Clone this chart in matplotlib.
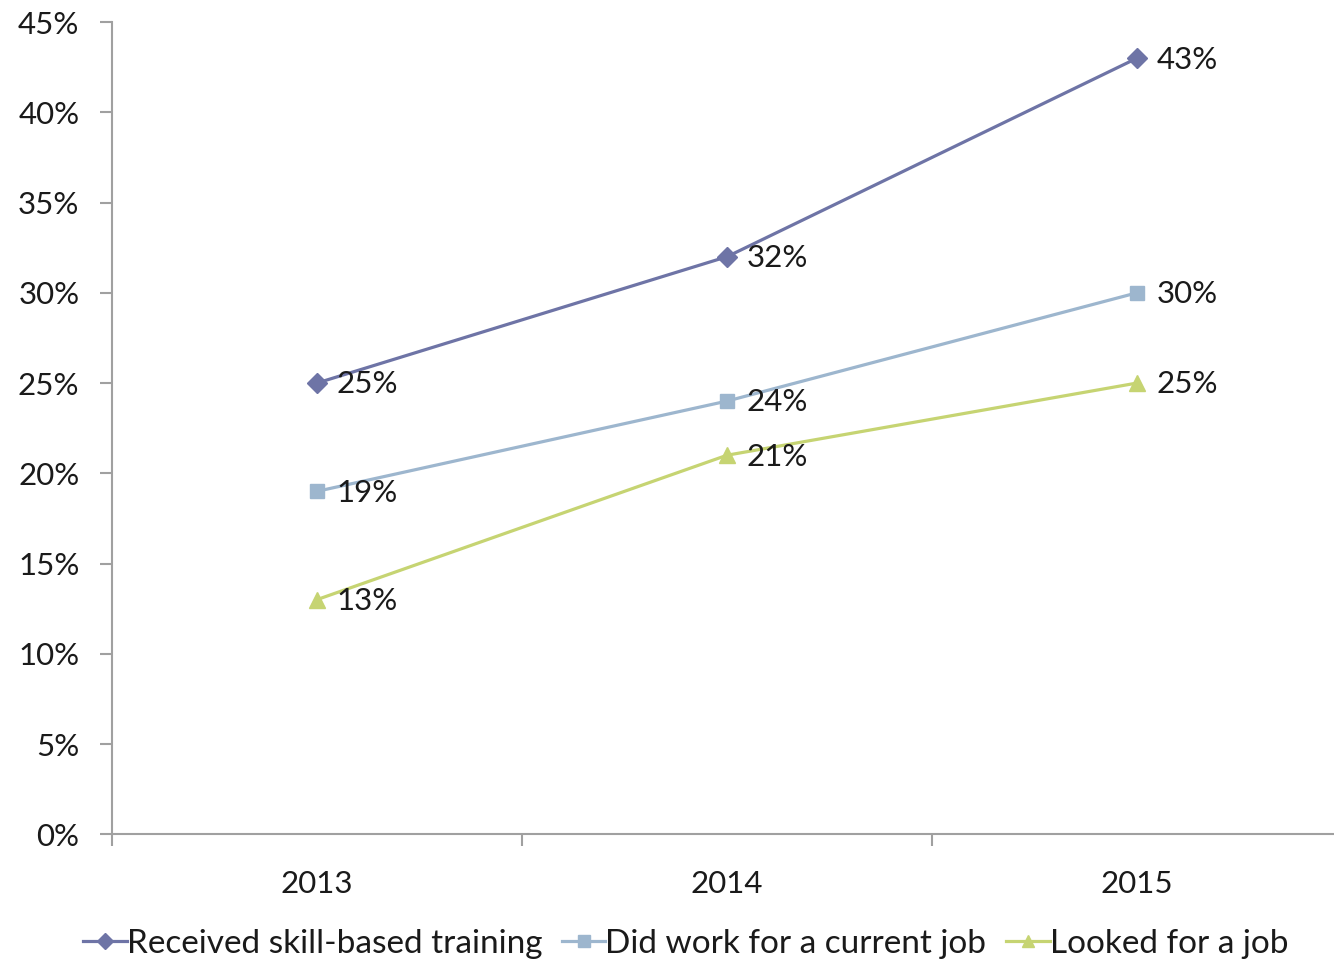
import numpy as np
import matplotlib
matplotlib.use("Agg")
from matplotlib import pyplot as plt
from matplotlib.ticker import FixedLocator

years = ["2013", "2014", "2015"]
training = [25, 32, 43]
current_job = [19, 24, 30]
looked_job = [13, 21, 25]
series_names = ["Received skill-based training", "Did work for a current job", "Looked for a job"]

plt.rcParams['font.family'] = ['Lato', 'DejaVu Sans']

FS = 22.5


def main():
    fig = plt.figure(figsize=(13.34, 9.6), dpi=100)
    ax = fig.add_axes([112 / 1334, 0.131, 1230 / 1334, 0.846])
    x = np.arange(len(years))

    styles = [("#6E74A6", "D", 10), ("#9DB6CE", "s", 10), ("#C6D472", "^", 11)]
    for vals, name, (c, m, ms) in zip([training, current_job, looked_job], series_names, styles):
        ax.plot(x, vals, color=c, marker=m, markersize=ms, linewidth=2.3, label=name,
                clip_on=False)
        for xi, v in zip(x, vals):
            ax.annotate(f"{v}%", (xi, v), xytext=(14, -1), textcoords="offset points",
                        ha="left", va="center", fontsize=FS, color="#1a1a1a")

    ax.set_ylim(0, 45)
    ax.set_xlim(-0.5, 2.5)
    ax.set_yticks(range(0, 46, 5))
    ax.set_yticklabels([f"{v}%" for v in range(0, 46, 5)])
    ax.set_xticks(x)
    ax.set_xticklabels(years)
    ax.xaxis.set_minor_locator(FixedLocator([-0.5, 0.5, 1.5, 2.5]))
    ax.tick_params(axis="x", which="major", length=0, pad=26, labelsize=FS, labelcolor="#1a1a1a")
    ax.tick_params(axis="x", which="minor", length=8.5, width=1.5, color="#A0A0A0", direction="out")
    ax.tick_params(axis="y", length=8.5, width=1.5, color="#A0A0A0", labelsize=FS,
                   labelcolor="#1a1a1a", pad=15)

    for s in ["top", "right"]:
        ax.spines[s].set_visible(False)
    for s in ["left", "bottom"]:
        ax.spines[s].set_color("#A0A0A0")
        ax.spines[s].set_linewidth(1.5)

    fig.legend(loc="lower center", bbox_to_anchor=(0.514, -0.03), ncol=3, frameon=False,
               fontsize=24, handlelength=1.3, handletextpad=0.0, columnspacing=0.6,
               markerscale=0.8, labelcolor="#1a1a1a")
    fig.savefig("out.png", dpi=100)


if __name__ == '__main__':
    main()
